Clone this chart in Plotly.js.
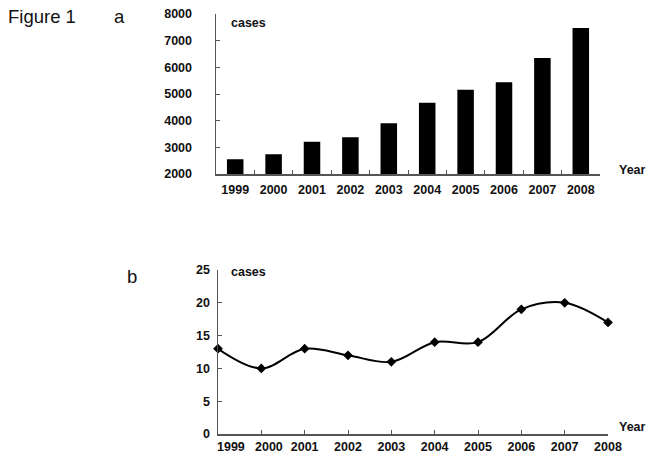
<!DOCTYPE html>
<html>
<head>
<meta charset="utf-8">
<script src="https://cdn.plot.ly/plotly-3.0.1.min.js"></script>
<style>html,body{margin:0;padding:0;background:#fff;}#chart{width:653px;height:456px;}</style>
</head>
<body>
<div id="chart"></div>
<script>
// Data
var years = ["1999","2000","2001","2002","2003","2004","2005","2006","2007","2008"];
var casesA = [2550, 2740, 3210, 3380, 3900, 4675, 5160, 5440, 6350, 7475];
var yearsB = [1999, 2000, 2001, 2002, 2003, 2004, 2005, 2006, 2007, 2008];
var casesB = [13, 10, 13, 12, 11, 14, 14, 19, 20, 17];
var yTicksA = [2000, 3000, 4000, 5000, 6000, 7000, 8000];
var yTicksB = [0, 5, 10, 15, 20, 25];

var W = 653, H = 456;
var axColor = '#555';
var tickFont = {family: 'Liberation Sans, Arial, sans-serif', size: 12.5, color: '#111', weight: 'bold'};
function px(x){ return x / W; }
function py(y){ return 1 - y / H; }

// In the original the first two labels of the lower axis sit to the right of their ticks:
// they are drawn as annotations anchored to the axis values, the rest as normal tick labels.
var shiftedB = {0: 13, 1: 8};
var tickTextB = yearsB.map(function(y, i){ return (i in shiftedB) ? '' : String(y); });

var traces = [
  {
    type: 'bar', x: years, y: casesA, xaxis: 'x', yaxis: 'y',
    marker: {color: '#000'}, hoverinfo: 'x+y'
  },
  {
    type: 'scatter', mode: 'lines+markers', x: yearsB, y: casesB, xaxis: 'x2', yaxis: 'y2',
    line: {color: '#000', width: 2, shape: 'spline', smoothing: 1},
    marker: {symbol: 'diamond', size: 7.5, color: '#000'},
    cliponaxis: false
  }
];

var annotations = [
  {text: 'Figure 1', xref: 'paper', yref: 'paper', x: px(6), y: py(16), xanchor: 'left', yanchor: 'middle', showarrow: false,
   font: {family: 'Liberation Sans, Arial, sans-serif', size: 18.5, color: '#111'}},
  {text: 'a', xref: 'paper', yref: 'paper', x: px(112), y: py(16), xanchor: 'left', yanchor: 'middle', showarrow: false,
   font: {family: 'Liberation Sans, Arial, sans-serif', size: 18.5, color: '#111'}},
  {text: 'b', xref: 'paper', yref: 'paper', x: px(125), y: py(276), xanchor: 'left', yanchor: 'middle', showarrow: false,
   font: {family: 'Liberation Sans, Arial, sans-serif', size: 18.5, color: '#111'}},
  {text: 'cases', xref: 'paper', yref: 'paper', x: px(229), y: py(23), xanchor: 'left', yanchor: 'middle', showarrow: false,
   font: tickFont},
  {text: 'Year', xref: 'paper', yref: 'paper', x: px(617), y: py(170), xanchor: 'left', yanchor: 'middle', showarrow: false,
   font: tickFont},
  {text: 'cases', xref: 'paper', yref: 'paper', x: px(229), y: py(272), xanchor: 'left', yanchor: 'middle', showarrow: false,
   font: tickFont},
  {text: 'Year', xref: 'paper', yref: 'paper', x: px(617), y: py(427), xanchor: 'left', yanchor: 'middle', showarrow: false,
   font: tickFont}
];
Object.keys(shiftedB).forEach(function(k){
  var i = +k;
  annotations.push({text: String(yearsB[i]), xref: 'x2', yref: 'paper', x: yearsB[i], xshift: shiftedB[k],
    y: py(446.5), xanchor: 'center', yanchor: 'middle', showarrow: false, font: tickFont});
});

var layout = {
  width: W, height: H,
  margin: {l: 0, r: 0, t: 0, b: 0},
  paper_bgcolor: '#fff', plot_bgcolor: '#fff',
  showlegend: false,
  bargap: 0.57,
  font: {family: 'Liberation Sans, Arial, sans-serif', color: '#111'},
  xaxis: {
    domain: [px(216), px(600)], anchor: 'y', type: 'category',
    range: [-0.5, 9.5], tickangle: 0,
    showline: true, linecolor: axColor, linewidth: 1.5,
    ticks: 'inside', tickson: 'boundaries', ticklen: 4, tickcolor: axColor, tickwidth: 1,
    showgrid: false, zeroline: false,
    tickfont: tickFont, ticklabelstandoff: 3
  },
  yaxis: {
    domain: [py(174), py(14)], anchor: 'x',
    range: [2000, 8000], tickvals: yTicksA, ticktext: yTicksA.map(String),
    showline: true, linecolor: axColor, linewidth: 1.5,
    ticks: 'inside', ticklen: 4, tickcolor: axColor, tickwidth: 1,
    showgrid: false, zeroline: false,
    tickfont: tickFont, ticklabelstandoff: 20
  },
  xaxis2: {
    domain: [px(218), px(608)], anchor: 'y2',
    range: [1999, 2008], tickvals: yearsB, ticktext: tickTextB, tickangle: 0,
    showline: true, linecolor: axColor, linewidth: 1.5,
    ticks: 'inside', ticklen: 4, tickcolor: axColor, tickwidth: 1,
    showgrid: false, zeroline: false,
    tickfont: tickFont, ticklabelstandoff: 0
  },
  yaxis2: {
    domain: [py(434), py(270)], anchor: 'x2',
    range: [0, 25], tickvals: yTicksB, ticktext: yTicksB.map(String),
    showline: true, linecolor: axColor, linewidth: 1.5,
    ticks: 'inside', ticklen: 4, tickcolor: axColor, tickwidth: 1,
    showgrid: false, zeroline: false,
    tickfont: tickFont, ticklabelstandoff: 4
  },
  annotations: annotations
};

Plotly.newPlot('chart', traces, layout, {displayModeBar: false, staticPlot: true});
</script>
</body>
</html>
